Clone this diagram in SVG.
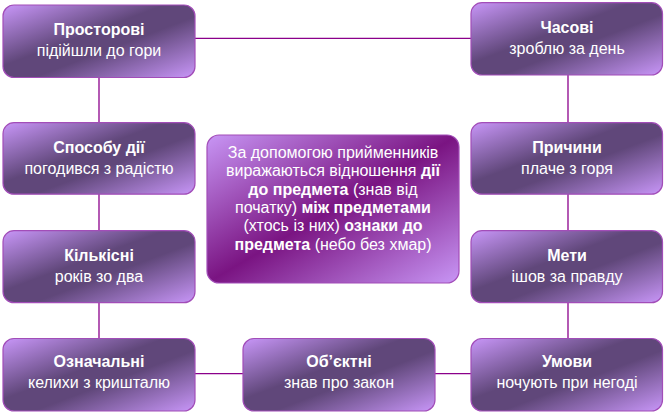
<svg xmlns="http://www.w3.org/2000/svg" width="666" height="414" viewBox="0 0 666 414">
<defs>
<linearGradient id="g" x1="0" y1="0" x2="1" y2="1">
<stop offset="0" stop-color="#C896F8"/>
<stop offset="0.42" stop-color="#60477A"/>
<stop offset="0.58" stop-color="#60477A"/>
<stop offset="1" stop-color="#C896F8"/>
</linearGradient>
<linearGradient id="gm" x1="0" y1="0" x2="1" y2="1">
<stop offset="0" stop-color="#C896F5"/>
<stop offset="0.5" stop-color="#7A1482"/>
<stop offset="1" stop-color="#C896F5"/>
</linearGradient>
</defs>
<style>
.box{fill:url(#g);stroke:#A24DB8;stroke-width:1.2}
.mbox{fill:url(#gm);stroke:#A24DB8;stroke-width:1.2}
.t{font-family:"Liberation Sans",Arial,sans-serif;font-size:16px;fill:#fff;text-anchor:middle}
.b{font-weight:bold}
.c{stroke:#8B008B;stroke-width:1.3;fill:none}
</style>
<g id="connectors">
<line class="c" x1="195" y1="38.3" x2="471" y2="38.3"/>
<line class="c" x1="99" y1="77" x2="99" y2="123"/>
<line class="c" x1="99" y1="194" x2="99" y2="231"/>
<line class="c" x1="99" y1="302" x2="99" y2="339"/>
<line class="c" x1="568" y1="75" x2="568" y2="123"/>
<line class="c" x1="568" y1="194" x2="568" y2="231"/>
<line class="c" x1="568" y1="302" x2="568" y2="339"/>
<line class="c" x1="195" y1="373.7" x2="243" y2="373.7"/>
<line class="c" x1="435" y1="373.7" x2="471" y2="373.7"/>
</g>
<g id="n1">
<rect class="box" x="3" y="5" width="192" height="72.5" rx="11"/>
<text class="t b" x="99" y="35">Просторові</text>
<text class="t" x="99" y="56">підійшли до гори</text>
</g>
<g id="n2">
<rect class="box" x="471" y="2.7" width="191.5" height="72.3" rx="11"/>
<text class="t b" x="567" y="32.5">Часові</text>
<text class="t" x="567" y="53.5">зроблю за день</text>
</g>
<g id="n3">
<rect class="box" x="3" y="122.7" width="192" height="71.5" rx="11"/>
<text class="t b" x="99" y="152.5">Способу дії</text>
<text class="t" x="99" y="173.5">погодився з радістю</text>
</g>
<g id="n4">
<rect class="box" x="471" y="122.7" width="191.5" height="71.5" rx="11"/>
<text class="t b" x="567" y="152.5">Причини</text>
<text class="t" x="567" y="173.5">плаче з горя</text>
</g>
<g id="n5">
<rect class="box" x="3" y="230.7" width="192" height="72" rx="11"/>
<text class="t b" x="99" y="260.5">Кількісні</text>
<text class="t" x="99" y="281.5">років зо два</text>
</g>
<g id="n6">
<rect class="box" x="471" y="230.7" width="191.5" height="72" rx="11"/>
<text class="t b" x="567" y="260.5">Мети</text>
<text class="t" x="567" y="281.5">ішов за правду</text>
</g>
<g id="n7">
<rect class="box" x="3" y="338.5" width="192" height="72.5" rx="11"/>
<text class="t b" x="99" y="367">Означальні</text>
<text class="t" x="99" y="388">келихи з кришталю</text>
</g>
<g id="n8">
<rect class="box" x="243" y="338.5" width="192" height="72.5" rx="11"/>
<text class="t b" x="339" y="367">Об’єктні</text>
<text class="t" x="339" y="388">знав про закон</text>
</g>
<g id="n9">
<rect class="box" x="471" y="338.5" width="191.5" height="72.5" rx="11"/>
<text class="t b" x="567" y="367">Умови</text>
<text class="t" x="567" y="388">ночують при негоді</text>
</g>
<g id="center">
<rect class="mbox" x="207" y="135" width="252" height="148" rx="12"/>
<text class="t" x="333" y="158">За допомогою прийменників</text>
<text class="t" x="333" y="176.3">виражаються відношення <tspan class="b">дії</tspan></text>
<text class="t" x="333" y="194.6"><tspan class="b">до предмета</tspan> (знав від</text>
<text class="t" x="333" y="212.9">початку) <tspan class="b">між предметами</tspan></text>
<text class="t" x="333" y="231.2">(хтось із них) <tspan class="b">ознаки до</tspan></text>
<text class="t" x="333" y="249.5"><tspan class="b">предмета</tspan> (небо без хмар)</text>
</g>
</svg>
